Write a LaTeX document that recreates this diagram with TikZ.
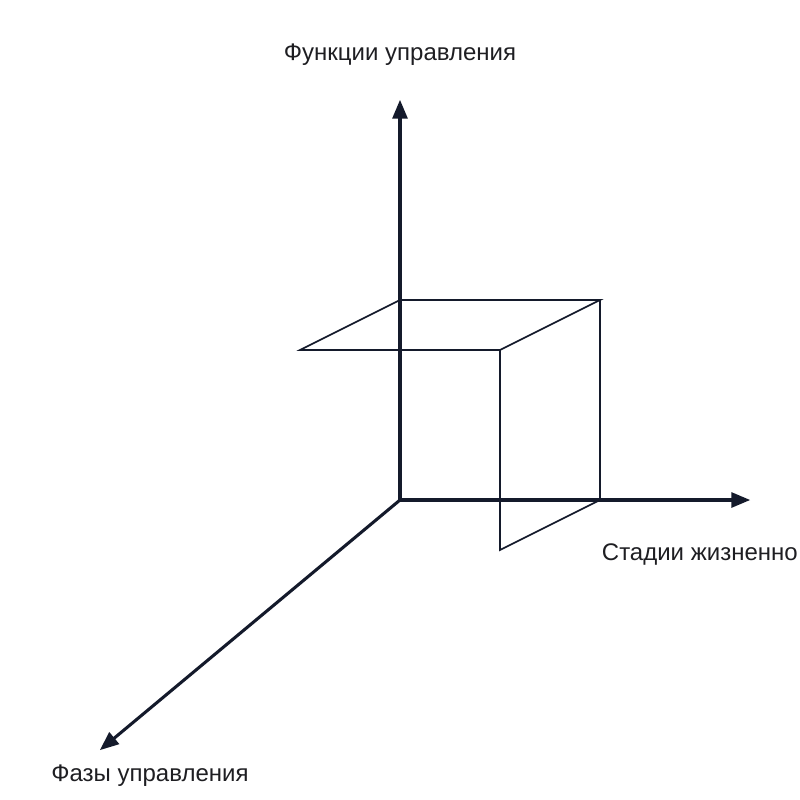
\documentclass[tikz,border=0pt]{standalone}
\usepackage{fontspec}
\setmainfont{Liberation Sans}
\usepackage{tikz}
\usetikzlibrary{arrows}

\begin{document}
\begin{tikzpicture}[x=0.75pt,y=-0.75pt]
\definecolor{axisColor}{RGB}{20,26,43}
\definecolor{labelColor}{RGB}{30,30,34}
\tikzset{
  axis/.style={->,>=triangle 45,line width=2.3pt,color=axisColor},
  edge/.style={line width=1.3pt,color=axisColor},
  label/.style={color=labelColor,font=\fontsize{18}{21}\selectfont,inner sep=0pt}
}
\useasboundingbox (0,0) rectangle (800,800);
% axes
\coordinate (O) at (400,500);
\coordinate (f end) at (400,100);
\coordinate (s end) at (750,500);
\coordinate (p end) at (100,750);
\draw[axis] (O) -- (f end);
\draw[axis] (O) -- (s end);
\draw[axis] (O) -- (p end);
\node[label,anchor=center] (f label) at (400,55) {Функции управления};
\node[label,anchor=east] (s label) at (798,555) {Стадии жизненно};
\node[label,anchor=center] (p label) at (150,776) {Фазы управления};
% box
\coordinate (a) at (400,300);
\coordinate (b) at (600,300);
\coordinate (c) at (500,350);
\coordinate (d) at (300,350);
\coordinate (e) at (600,500);
\coordinate (g) at (500,550);
\draw[edge] (d) -- (a) -- (b) -- (c) -- cycle;
\draw[edge] (b) -- (e) -- (g) -- (c);
\end{tikzpicture}
\end{document}
